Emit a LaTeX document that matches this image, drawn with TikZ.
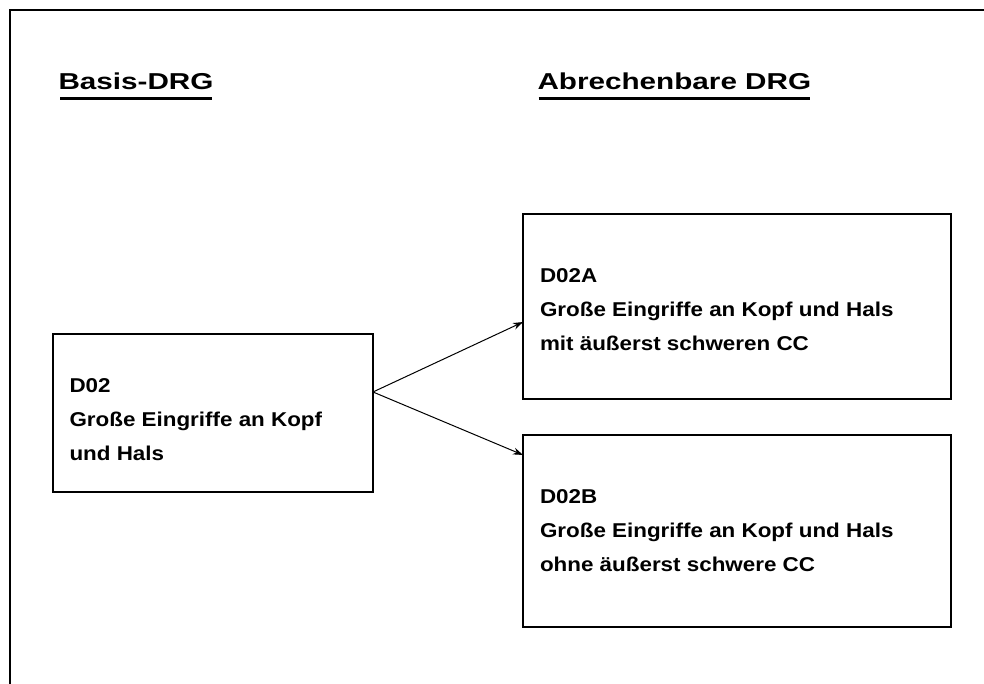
\documentclass[tikz,border=0pt]{standalone}
\usepackage{fontspec}
\setmainfont{Liberation Sans}
\newfontfamily\headfont{Liberation Sans}[FakeStretch=1.29]
\newfontfamily\boxfont{Liberation Sans}[FakeStretch=1.12]
\usetikzlibrary{arrows.meta,calc}
\begin{document}
\begin{tikzpicture}[x=1pt,y=-1pt,
  frame/.style={line width=2pt},
  drgbox/.style={draw,line width=1.6pt,rectangle,inner sep=0pt,outer sep=0pt},
  head/.style={anchor=base west,inner sep=0pt,outer sep=0pt,font=\headfont\fontsize{23}{27}\selectfont\bfseries},
  ulinestyle/.style={line width=2.2pt},
  txt/.style={anchor=base west,inner sep=0pt,outer sep=0pt,font=\boxfont\fontsize{20}{24}\selectfont\bfseries},
  conn/.style={line width=1pt,-{Stealth[length=10pt,width=7pt]}}]
\useasboundingbox (0,0) rectangle (984,684);
\fill[white] (0,0) rectangle (984,684);
% outer frame (top and left)
\coordinate (fbl) at (10,684);
\coordinate (ftl) at (10,10);
\coordinate (ftr) at (984,10);
\draw[frame] (fbl) -- (ftl) -- (ftr);
% headings
\node[head] (h1) at (58.5,89.5) {Basis-DRG};
\node[head] (h2) at (537.5,89.5) {Abrechenbare DRG};
\draw[ulinestyle] ($(h1.base west)+(1.5,9)$) -- ($(h1.base east)+(-1,9)$);
\draw[ulinestyle] ($(h2.base west)+(1,9)$) -- ($(h2.base east)+(-1,9)$);
% boxes
\node[drgbox,minimum width=320pt,minimum height=158pt] (d02) at (213,413) {};
\node[drgbox,minimum width=427.7pt,minimum height=185pt] (d02a) at (736.85,306.5) {};
\node[drgbox,minimum width=427.7pt,minimum height=192pt] (d02b) at (736.85,531) {};
% texts
\node[txt] (t1) at (69.5,392) {D02};
\node[txt] (t2) at (69.5,426) {Große Eingriffe an Kopf};
\node[txt] (t3) at (69.5,460) {und Hals};
\node[txt] (a1) at (540,282.5) {D02A};
\node[txt] (a2) at (540,316.5) {Große Eingriffe an Kopf und Hals};
\node[txt] (a3) at (540,350.5) {mit äußerst schweren CC};
\node[txt] (b1) at (540,503.5) {D02B};
\node[txt] (b2) at (540,537.5) {Große Eingriffe an Kopf und Hals};
\node[txt] (b3) at (540,571) {ohne äußerst schwere CC};
% connectors
\coordinate (src) at ($(d02.north east)!0.367!(d02.south east)$);
\coordinate (ta) at ($(d02a.north west)!0.584!(d02a.south west)$);
\coordinate (tb) at ($(d02b.north west)!0.104!(d02b.south west)$);
\draw[conn] (src) -- (ta);
\draw[conn] (src) -- (tb);
\end{tikzpicture}
\end{document}
